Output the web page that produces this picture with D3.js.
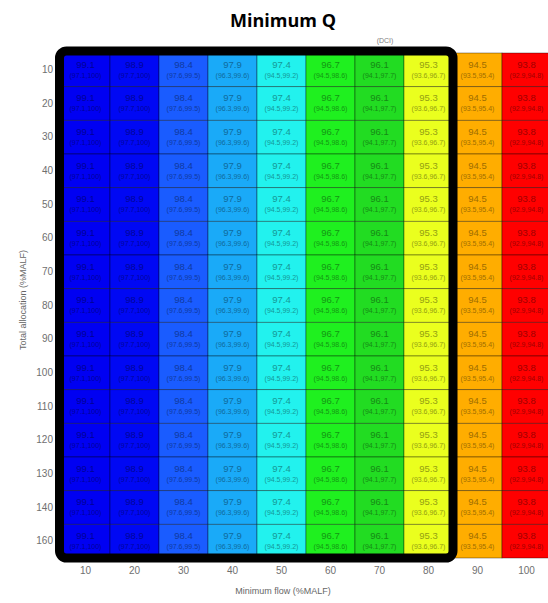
<!DOCTYPE html>
<html>
<head>
<meta charset="utf-8">
<script src="https://cdn.jsdelivr.net/npm/d3@7"></script>
<style>
  body { margin: 0; background: #fff; }
  svg { display: block; }
</style>
</head>
<body>
<div class="container"></div>
<script>
// minimum flow (columns) and total allocation (rows), both in %MALF
var minFlow = [10, 20, 30, 40, 50, 60, 70, 80, 90, 100];
var allocation = [10, 20, 30, 40, 50, 60, 70, 80, 90, 100, 110, 120, 130, 140, 160];

// DCI mean and confidence interval for each minimum flow (same on every row)
var dci = [99.1, 98.9, 98.4, 97.9, 97.4, 96.7, 96.1, 95.3, 94.5, 93.8];
var ciLow = [97.1, 97.7, 97.6, 96.3, 94.5, 94.5, 94.1, 93.6, 93.5, 92.9];
var ciHigh = [100, 100, 99.5, 99.6, 99.2, 98.6, 97.7, 96.7, 95.4, 94.8];

// minimum flows inside the highlighted box
var boxed = [10, 20, 30, 40, 50, 60, 70, 80];

!function () {
    var width = 548, height = 603;
    var palette = ['#0000f2', '#0008f4', '#1a5cff', '#1aaaf8', '#22f2ee',
                   '#1ff01f', '#22dc22', '#eaff1e', '#ffad00', '#ff0000'];

    var svg = d3.select('.container')
        .append('svg')
        .attr('width', width)
        .attr('height', height);

    var x = d3.scaleBand()
        .domain(minFlow)
        .range([61, 551]);

    var y = d3.scaleBand()
        .domain(allocation)
        .range([53, 558]);

    var colour = d3.scaleOrdinal()
        .domain(minFlow)
        .range(palette);

    var cells = [];
    allocation.forEach(function (a) {
        minFlow.forEach(function (f, i) {
            cells.push({ alloc: a, flow: f, v: dci[i], lo: ciLow[i], hi: ciHigh[i] });
        });
    });

    var cell = svg.append('g')
        .selectAll('g')
        .data(cells)
        .enter()
        .append('g')
        .attr('transform', function (d) {
            return 'translate(' + x(d.flow) + ',' + y(d.alloc) + ')';
        });

    cell.append('rect')
        .attr('width', x.bandwidth())
        .attr('height', y.bandwidth())
        .attr('fill', function (d) { return colour(d.flow); })
        .attr('stroke', 'rgba(0,0,0,0.45)')
        .attr('stroke-width', 0.8);

    function ink(d) {
        return d3.color(colour(d.flow)).darker(1.3);
    }

    cell.append('text')
        .attr('x', x.bandwidth() / 2)
        .attr('y', y.bandwidth() / 2 - 2)
        .attr('text-anchor', 'middle')
        .style('font-family', 'Liberation Sans, Arial, sans-serif')
        .style('font-size', '9.5px')
        .attr('fill', ink)
        .text(function (d) { return d3.format('.1f')(d.v); });

    cell.append('text')
        .attr('x', x.bandwidth() / 2)
        .attr('y', y.bandwidth() / 2 + 8)
        .attr('text-anchor', 'middle')
        .style('font-family', 'Liberation Sans, Arial, sans-serif')
        .style('font-size', '7px')
        .attr('fill', ink)
        .text(function (d) { return '(' + d.lo + ',' + d.hi + ')'; });

    // thick black box round the first eight columns
    var x0 = x(boxed[0]), x1 = x(boxed[boxed.length - 1]) + x.bandwidth();
    svg.append('rect')
        .attr('x', x0 - 1.5)
        .attr('y', y(allocation[0]) - 2)
        .attr('width', x1 - x0 + 1.5)
        .attr('height', y.range()[1] - y.range()[0] + 2)
        .attr('rx', 7)
        .attr('fill', 'none')
        .attr('stroke', '#000')
        .attr('stroke-width', 9);

    var xAxis = d3.axisBottom(x).tickSize(0).tickPadding(0);
    svg.append('g')
        .attr('class', 'axis')
        .attr('transform', 'translate(0,567)')
        .call(xAxis)
        .call(function (g) { g.select('.domain').remove(); })
        .selectAll('text')
        .style('font-family', 'Liberation Sans, Arial, sans-serif')
        .style('font-size', '10px')
        .attr('fill', '#6f6f6f');

    var yAxis = d3.axisLeft(y).tickSize(0).tickPadding(0);
    svg.append('g')
        .attr('class', 'axis')
        .attr('transform', 'translate(53,0)')
        .call(yAxis)
        .call(function (g) { g.select('.domain').remove(); })
        .selectAll('text')
        .style('font-family', 'Liberation Sans, Arial, sans-serif')
        .style('font-size', '10px')
        .attr('fill', '#6f6f6f');

    svg.append('text')
        .attr('x', 283)
        .attr('y', 27)
        .attr('text-anchor', 'middle')
        .style('font-family', 'Open Sans, sans-serif')
        .style('font-weight', 'bold')
        .style('font-size', '18px')
        .attr('fill', '#000')
        .text('Minimum Q');

    svg.append('text')
        .attr('x', 385)
        .attr('y', 43)
        .attr('text-anchor', 'middle')
        .style('font-family', 'Liberation Sans, Arial, sans-serif')
        .style('font-size', '7px')
        .style('fill', '#808080')
        .text('(DCI)');

    svg.append('text')
        .attr('x', 283)
        .attr('y', 594)
        .attr('text-anchor', 'middle')
        .style('font-family', 'Liberation Sans, Arial, sans-serif')
        .style('font-size', '9px')
        .attr('fill', '#666')
        .text('Minimum flow (%MALF)');

    svg.append('text')
        .attr('transform', 'translate(26,300) rotate(-90)')
        .attr('text-anchor', 'middle')
        .style('font-family', 'Liberation Sans, Arial, sans-serif')
        .style('font-size', '9px')
        .attr('fill', '#666')
        .text('Total allocation (%MALF)');
}();
</script>
</body>
</html>
